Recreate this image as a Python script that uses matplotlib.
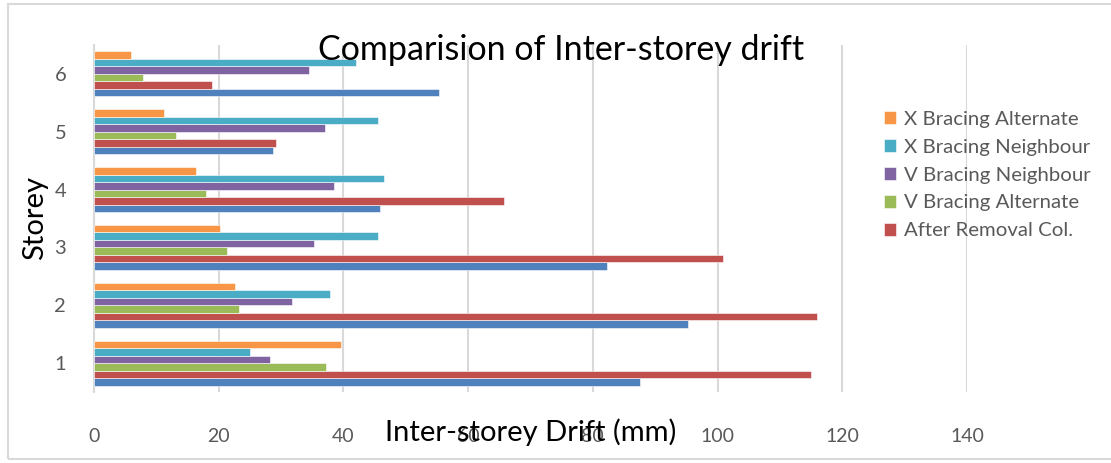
import matplotlib.pyplot as plt
import matplotlib.patches as patches
import numpy as np

plt.rcParams['font.family'] = ['Lato', 'DejaVu Sans']

# 数据
storeys = ['1', '2', '3', '4', '5', '6']
series_names = ['Before Removal Col.', 'After Removal Col.', 'V Bracing Alternate',
                'V Bracing Neighbour', 'X Bracing Neighbour', 'X Bracing Alternate']
before_removal = [87.5, 95.2, 82.2, 45.9, 28.7, 55.3]
after_removal = [115.0, 115.9, 100.8, 65.8, 29.2, 19.0]
v_alternate = [37.2, 23.3, 21.4, 18.0, 13.2, 7.8]
v_neighbour = [28.2, 31.8, 35.3, 38.5, 37.0, 34.4]
x_neighbour = [25.0, 37.9, 45.5, 46.5, 45.5, 42.0]
x_alternate = [39.6, 22.6, 20.2, 16.3, 11.2, 5.9]
colors = ['#4F81BD', '#C0504D', '#9BBB59', '#8064A2', '#4BACC6', '#F79646']

all_series = [before_removal, after_removal, v_alternate, v_neighbour, x_neighbour, x_alternate]

fig = plt.figure(figsize=(11.11, 4.63), dpi=100)
ax = fig.add_axes([94 / 1111, 71 / 463, 873 / 1111, 347 / 463])

# 外框
fig.patches.append(patches.Rectangle((8 / 1111, 4 / 463), 1.2, 455 / 463, transform=fig.transFigure,
                                     fill=False, edgecolor='#D9D9D9', linewidth=1.5))

y = np.arange(1, len(storeys) + 1)
h = 0.13
bars = []
for i, (vals, name, c) in enumerate(zip(all_series, series_names, colors)):
    b = ax.barh(y + (i - 2.5) * h, vals, height=h, color=c, edgecolor='white', linewidth=0.4,
                label=name, zorder=3)
    bars.append(b)

ax.set_xlim(0, 140)
ax.set_ylim(0.5, 6.5)
ax.set_xticks(np.arange(0, 141, 20))
ax.set_yticks(y)
ax.set_yticklabels(storeys)
ax.grid(axis='x', color='#D9D9D9', linewidth=1.5, zorder=0)
for s in ['top', 'right', 'bottom']:
    ax.spines[s].set_visible(False)
ax.spines['left'].set_color('#D9D9D9')
ax.spines['left'].set_linewidth(1.5)
ax.tick_params(axis='x', length=0, pad=26, labelsize=14, labelcolor='#595959')
ax.tick_params(axis='y', length=0, pad=20, labelsize=14.5, labelcolor='#595959')

ax.set_xlabel('Inter-storey Drift (mm)', fontsize=21, color='black', labelpad=-19)
ax.set_ylabel('Storey', fontsize=21, color='black', labelpad=5)

fig.text(561 / 1111, 1 - 50 / 463, 'Comparision of Inter-storey drift', fontsize=24.5,
         ha='center', va='center', color='black')

# 图例（第一个系列没有图例）
leg_handles = bars[1:][::-1]
leg = fig.legend(handles=leg_handles, labels=[n for n in series_names[1:]][::-1],
                 loc='upper left', bbox_to_anchor=(884 / 1111, 1 - 111 / 463),
                 frameon=False, fontsize=14.7, handlelength=0.6, handleheight=0.6,
                 handletextpad=0.4, labelspacing=0.53, borderaxespad=0, borderpad=0)
for t in leg.get_texts():
    t.set_color('#595959')

fig.savefig('out.png', dpi=100)
